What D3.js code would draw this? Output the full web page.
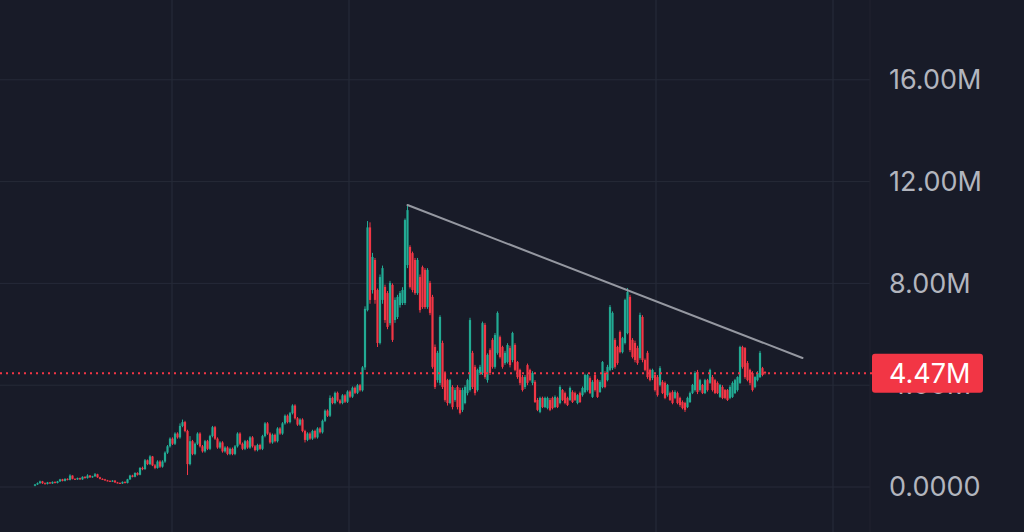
<!DOCTYPE html>
<html>
<head>
<meta charset="utf-8">
<script src="https://cdn.jsdelivr.net/npm/d3@7"></script>
<style>
html,body{margin:0;padding:0;background:#181b28;overflow:hidden;}
svg{display:block;}
</style>
</head>
<body>
<svg id="chart" width="1024" height="532"></svg>
<script>
// Values in millions (M)
const opens = [
.05,.10,.15,.22,.15,.12,.18,.14,.20,.16,
.22,.30,.24,.32,.28,.45,.32,.30,.35,.30,
.40,.35,.45,.38,.42,.50,.38,.32,.30,.26,
.24,.22,.25,.18,.16,.14,.20,.16,.30,.45,
.40,.55,.48,.75,.70,1.05,.90,1.20,.85,.75,
1.00,.80,1.00,1.35,1.60,1.90,1.70,2.10,1.95,2.40,
2.55,2.20,0.90,1.80,1.30,1.70,2.10,1.60,1.40,1.80,
1.50,2.00,2.35,1.90,1.55,1.75,1.40,1.55,1.30,1.50,
1.30,1.60,2.10,1.70,1.50,1.80,1.55,1.95,1.60,1.45,
1.65,1.50,2.00,2.50,2.10,1.75,2.05,1.80,2.30,2.10,
2.50,2.80,2.55,2.90,3.20,2.70,2.45,2.65,2.20,1.85,
2.10,1.90,2.20,1.95,2.30,2.15,2.60,3.00,2.80,3.50,
3.30,3.70,3.40,3.30,3.60,3.35,3.75,3.55,3.90,3.70,
4.00,3.80,4.70,6.95,10.20,7.74,8.92,7.74,5.66,7.35,
7.86,7.62,6.44,7.94,6.56,6.68,7.15,7.23,7.23,8.72,
9.43,9.19,8.92,7.62,8.25,8.64,8.53,7.07,8.02,7.47,
5.50,4.20,4.09,5.66,4.48,4.20,3.30,3.93,3.42,3.93,
3.81,3.03,3.30,3.69,3.81,5.27,4.72,3.81,4.48,4.48,
6.37,4.20,5.38,5.78,4.72,5.27,5.89,5.50,4.87,4.91,
5.46,4.99,5.58,4.91,4.60,4.32,3.93,4.79,4.60,4.09,
4.13,3.42,2.95,3.50,3.14,3.10,3.42,3.50,3.14,3.50,
3.30,3.81,3.69,3.50,3.42,3.73,3.69,3.30,3.69,3.61,
3.73,3.81,4.28,3.54,4.40,4.20,3.73,3.93,4.48,4.20,
4.60,4.67,5.78,5.50,6.09,5.30,5.66,6.05,7.47,5.78,
5.66,5.46,5.07,6.68,4.99,5.27,4.60,4.28,4.40,4.32,
4.01,4.13,4.09,3.61,3.69,3.73,3.50,3.69,3.50,3.34,
3.30,3.14,3.34,3.69,3.81,4.52,3.81,4.01,3.69,4.20,
4.09,4.32,4.20,4.09,3.54,3.93,3.81,3.81,3.50,3.54,
3.69,3.81,4.09,5.50,5.46,4.87,4.60,4.48,3.93,4.20,
4.32,4.67,4.52
];
const closes = [
.10,.15,.22,.15,.12,.18,.14,.20,.16,.22,
.30,.24,.32,.28,.45,.32,.30,.35,.30,.40,
.35,.45,.38,.42,.50,.38,.32,.30,.26,.24,
.22,.25,.18,.16,.14,.20,.16,.30,.45,.40,
.55,.48,.75,.70,1.05,.90,1.20,.85,.75,1.00,
.80,1.00,1.35,1.60,1.90,1.70,2.10,1.95,2.40,2.55,
2.20,0.90,1.80,1.30,1.70,2.10,1.60,1.40,1.80,1.50,
2.00,2.35,1.90,1.55,1.75,1.40,1.55,1.30,1.50,1.30,
1.60,2.10,1.70,1.50,1.80,1.55,1.95,1.60,1.45,1.65,
1.50,2.00,2.50,2.10,1.75,2.05,1.80,2.30,2.10,2.50,
2.80,2.55,2.90,3.20,2.70,2.45,2.65,2.20,1.85,2.10,
1.90,2.20,1.95,2.30,2.15,2.60,3.00,2.80,3.50,3.30,
3.70,3.40,3.30,3.60,3.35,3.75,3.55,3.90,3.70,4.00,
3.80,4.70,7.00,10.20,7.35,9.04,7.35,5.66,8.25,8.60,
6.56,6.29,8.02,5.78,7.35,7.47,7.62,7.74,10.49,10.88,
7.86,7.74,7.62,8.92,6.95,7.07,7.07,8.53,6.84,4.72,
3.93,5.27,6.68,3.93,3.42,3.30,4.20,3.14,3.81,3.14,
2.91,3.81,3.93,4.20,6.56,3.93,3.69,4.60,4.72,6.44,
4.32,5.19,4.48,4.72,5.97,6.84,5.11,4.72,5.27,5.58,
4.79,6.05,4.60,4.32,4.09,3.81,4.32,4.09,4.20,4.48,
3.34,3.03,3.50,3.14,3.50,3.50,3.03,3.10,3.54,3.14,
3.93,3.42,3.30,3.22,3.89,3.34,3.42,3.61,3.34,3.89,
4.40,4.40,3.69,4.13,3.81,3.54,4.13,4.91,3.93,4.72,
7.07,6.84,4.72,4.87,5.30,5.85,7.35,7.66,5.38,5.11,
4.99,4.87,6.76,4.99,4.60,4.32,4.20,4.60,3.81,3.61,
4.67,3.69,3.50,4.01,3.42,3.30,3.73,3.30,3.22,3.10,
3.03,3.50,3.69,4.01,4.48,3.73,4.20,3.69,4.20,3.81,
4.60,3.81,3.69,3.69,4.01,3.50,3.50,3.42,3.93,4.09,
4.20,4.32,5.50,4.72,4.32,4.20,4.09,3.81,4.32,4.48,
5.27,4.40,4.47
];
const highs = [
.12,.18,.25,.24,.18,.20,.20,.22,.22,.24,
.32,.32,.34,.34,.50,.46,.34,.37,.37,.42,
.42,.50,.47,.44,.55,.52,.40,.34,.32,.28,
.26,.27,.27,.20,.18,.22,.22,.32,.48,.48,
.58,.58,.78,.80,1.10,1.08,1.25,1.22,.90,1.05,
1.05,1.05,1.40,1.65,1.95,1.95,2.15,2.15,2.50,2.65,
2.60,2.25,2.00,1.85,1.75,2.15,2.15,1.65,1.85,1.85,
2.05,2.40,2.40,1.95,1.80,1.80,1.60,1.60,1.55,1.55,
1.65,2.15,2.15,1.75,1.85,1.85,2.00,2.00,1.65,1.70,
1.70,2.05,2.55,2.55,2.15,2.10,2.10,2.35,2.35,2.55,
2.85,2.85,2.95,3.25,3.25,2.75,2.70,2.70,2.25,2.15,
2.15,2.25,2.25,2.35,2.35,2.65,3.05,3.05,3.60,3.55,
3.75,3.75,3.45,3.65,3.65,3.80,3.80,3.95,3.95,4.05,
4.05,4.75,7.10,10.45,10.40,9.20,9.00,7.80,8.35,8.70,
7.95,7.70,8.10,8.00,7.45,7.55,7.70,7.85,10.55,11.08,
9.50,9.25,9.00,9.00,8.35,8.70,8.60,8.60,8.10,7.55,
5.60,5.35,6.75,5.75,4.55,4.25,4.25,4.00,3.90,4.00,
3.90,3.90,4.00,4.25,6.65,5.35,4.80,4.65,4.80,6.50,
6.45,5.25,5.45,5.85,6.05,6.90,5.95,5.55,5.35,5.65,
5.55,6.10,5.65,4.95,4.65,4.40,4.40,4.85,4.65,4.55,
4.20,3.50,3.55,3.55,3.55,3.55,3.50,3.55,3.60,3.55,
4.00,3.85,3.75,3.55,3.95,3.80,3.75,3.65,3.75,3.95,
4.45,4.45,4.35,4.20,4.45,4.25,4.20,4.95,4.55,4.80,
7.15,6.90,5.85,5.55,6.15,5.90,7.40,7.82,7.55,5.85,
5.75,5.55,6.85,6.75,5.05,5.35,4.65,4.65,4.45,4.40,
4.75,4.20,4.15,4.05,3.75,3.80,3.80,3.75,3.55,3.40,
3.35,3.55,3.75,4.05,4.55,4.60,4.25,4.05,4.25,4.25,
4.65,4.40,4.25,4.15,4.05,4.00,3.85,3.85,4.00,4.15,
4.25,4.35,5.55,5.55,5.50,4.95,4.65,4.55,4.35,4.55,
5.35,4.72,4.55
];
const lows = [
.03,.08,.13,.12,.10,.10,.12,.12,.14,.14,
.20,.22,.22,.26,.26,.30,.28,.28,.28,.28,
.33,.33,.36,.36,.40,.36,.30,.28,.24,.22,
.20,.20,.16,.14,.12,.12,.14,.14,.28,.38,
.38,.45,.46,.66,.68,.86,.86,.82,.70,.72,
.75,.76,.95,1.30,1.55,1.65,1.65,1.90,1.90,2.35,
2.15,0.47,0.85,1.25,1.25,1.65,1.55,1.35,1.35,1.45,
1.45,1.95,1.85,1.50,1.50,1.35,1.35,1.25,1.25,1.25,
1.25,1.55,1.65,1.45,1.45,1.50,1.50,1.55,1.40,1.40,
1.45,1.45,1.95,2.05,1.70,1.70,1.75,1.75,2.05,2.05,
2.45,2.50,2.50,2.85,2.65,2.40,2.40,2.15,1.75,1.80,
1.85,1.85,1.90,1.90,2.10,2.10,2.55,2.75,2.75,3.25,
3.25,3.35,3.25,3.25,3.30,3.30,3.50,3.50,3.65,3.65,
3.75,3.75,4.60,6.90,7.20,7.60,7.20,5.50,5.60,7.20,
6.45,6.20,6.35,5.70,6.45,6.60,7.05,7.15,7.15,8.60,
7.80,7.65,7.55,7.55,6.85,7.00,7.00,7.00,6.75,4.65,
3.85,4.10,4.00,3.85,3.35,3.20,3.25,3.05,3.35,3.05,
2.85,2.95,3.25,3.60,3.75,3.85,3.60,3.75,4.40,4.40,
4.25,4.10,4.40,4.65,4.65,5.20,5.05,4.65,4.80,4.85,
4.70,4.90,4.55,4.25,4.00,3.75,3.85,4.00,4.15,4.00,
3.30,2.98,2.90,3.10,3.10,3.05,2.98,3.05,3.10,3.10,
3.25,3.38,3.25,3.18,3.38,3.30,3.38,3.25,3.30,3.55,
3.68,3.75,3.65,3.50,3.75,3.50,3.70,3.88,3.88,4.15,
4.55,4.60,4.65,4.80,5.25,5.25,5.60,6.00,5.30,5.05,
4.90,4.80,5.00,4.90,4.55,4.25,4.15,4.20,3.75,3.55,
3.95,3.65,3.45,3.55,3.38,3.25,3.45,3.25,3.15,3.05,
2.95,3.10,3.30,3.65,3.75,3.65,3.75,3.65,3.65,3.75,
4.05,3.75,3.65,3.65,3.50,3.45,3.45,3.38,3.45,3.50,
3.65,3.75,4.05,4.65,4.25,4.15,4.00,3.75,3.88,4.15,
4.28,4.35,4.42
];
const tickValues = [0, 4, 8, 12, 16];
const tickLabels = ["0.0000", "4.00M", "8.00M", "12.00M", "16.00M"];
// vertical time-grid positions, in candle-index units
const timeTicks = [54.8, 125.6, 248.4, 319.2];
// trend line anchors: [candle index, value]
const trendLine = [[149, 11.08], [307, 5.07]];
const lastPriceLabel = "4.47M";

const W = 1024, H = 532;
const plotRight = 870;
const svg = d3.select("#chart");
svg.append("rect").attr("width", W).attr("height", H).attr("fill", "#181b28");

const x = d3.scaleLinear().domain([0, 307]).range([35, 802.5]);
const y = d3.scaleLinear().domain([0, 16]).range([487, 79.8]);

const grid = svg.append("g");
grid.selectAll("line.h").data(tickValues).join("line")
  .attr("x1", 0).attr("x2", plotRight)
  .attr("y1", d => y(d)).attr("y2", d => y(d))
  .attr("stroke", "#262a38").attr("stroke-width", 1);
grid.selectAll("line.v").data(timeTicks).join("line")
  .attr("x1", d => x(d)).attr("x2", d => x(d))
  .attr("y1", 0).attr("y2", H)
  .attr("stroke", "#262a38").attr("stroke-width", 1.2);
svg.append("line").attr("x1", plotRight).attr("x2", plotRight).attr("y1", 0).attr("y2", H)
  .attr("stroke", "#20232f").attr("stroke-width", 1);

const idx = d3.range(closes.length);
const up = "#22ab94", down = "#f23645";
const candles = svg.append("g");
candles.selectAll("line").data(idx).join("line")
  .attr("x1", i => x(i)).attr("x2", i => x(i))
  .attr("y1", i => y(highs[i])).attr("y2", i => y(lows[i]))
  .attr("stroke", i => closes[i] >= opens[i] ? up : down)
  .attr("stroke-width", 1);
const bw = 2.2;
candles.selectAll("rect").data(idx).join("rect")
  .attr("x", i => x(i) - bw / 2)
  .attr("width", bw)
  .attr("y", i => y(Math.max(opens[i], closes[i])))
  .attr("height", i => Math.max(1, Math.abs(y(opens[i]) - y(closes[i]))))
  .attr("fill", i => closes[i] >= opens[i] ? up : down);

// trend line
svg.append("line")
  .attr("x1", x(trendLine[0][0])).attr("y1", y(trendLine[0][1]))
  .attr("x2", x(trendLine[1][0])).attr("y2", y(trendLine[1][1]))
  .attr("stroke", "#9598a1").attr("stroke-width", 2).attr("stroke-linecap", "round");

// last price dotted line
const last = closes[closes.length - 1];
svg.append("line")
  .attr("x1", 0).attr("x2", 872)
  .attr("y1", y(last)).attr("y2", y(last))
  .attr("stroke", down).attr("stroke-width", 2).attr("stroke-dasharray", "2,4");

// y axis labels
const axis = d3.axisRight(y).tickValues(tickValues)
  .tickFormat((d, i) => tickLabels[i]).tickSize(0).tickPadding(0);
const ag = svg.append("g").attr("transform", "translate(889,0)").call(axis);
ag.select(".domain").remove();
ag.selectAll("text")
  .attr("fill", "#b2b5be")
  .style("font-family", "Inter, 'Noto Sans', sans-serif")
  .style("font-size", "27px");

// last price tag (drawn over the 4.00M label, as in the source)
const tag = svg.append("g");
tag.append("rect").attr("x", 872).attr("y", y(last) - 19.5).attr("width", 111).attr("height", 39)
  .attr("rx", 3).attr("fill", down);
tag.append("text").attr("x", 889).attr("y", y(last)).attr("dy", "0.35em")
  .attr("fill", "#ffffff")
  .style("font-family", "Inter, 'Noto Sans', sans-serif")
  .style("font-size", "27px")
  .text(lastPriceLabel);
</script>
</body>
</html>
